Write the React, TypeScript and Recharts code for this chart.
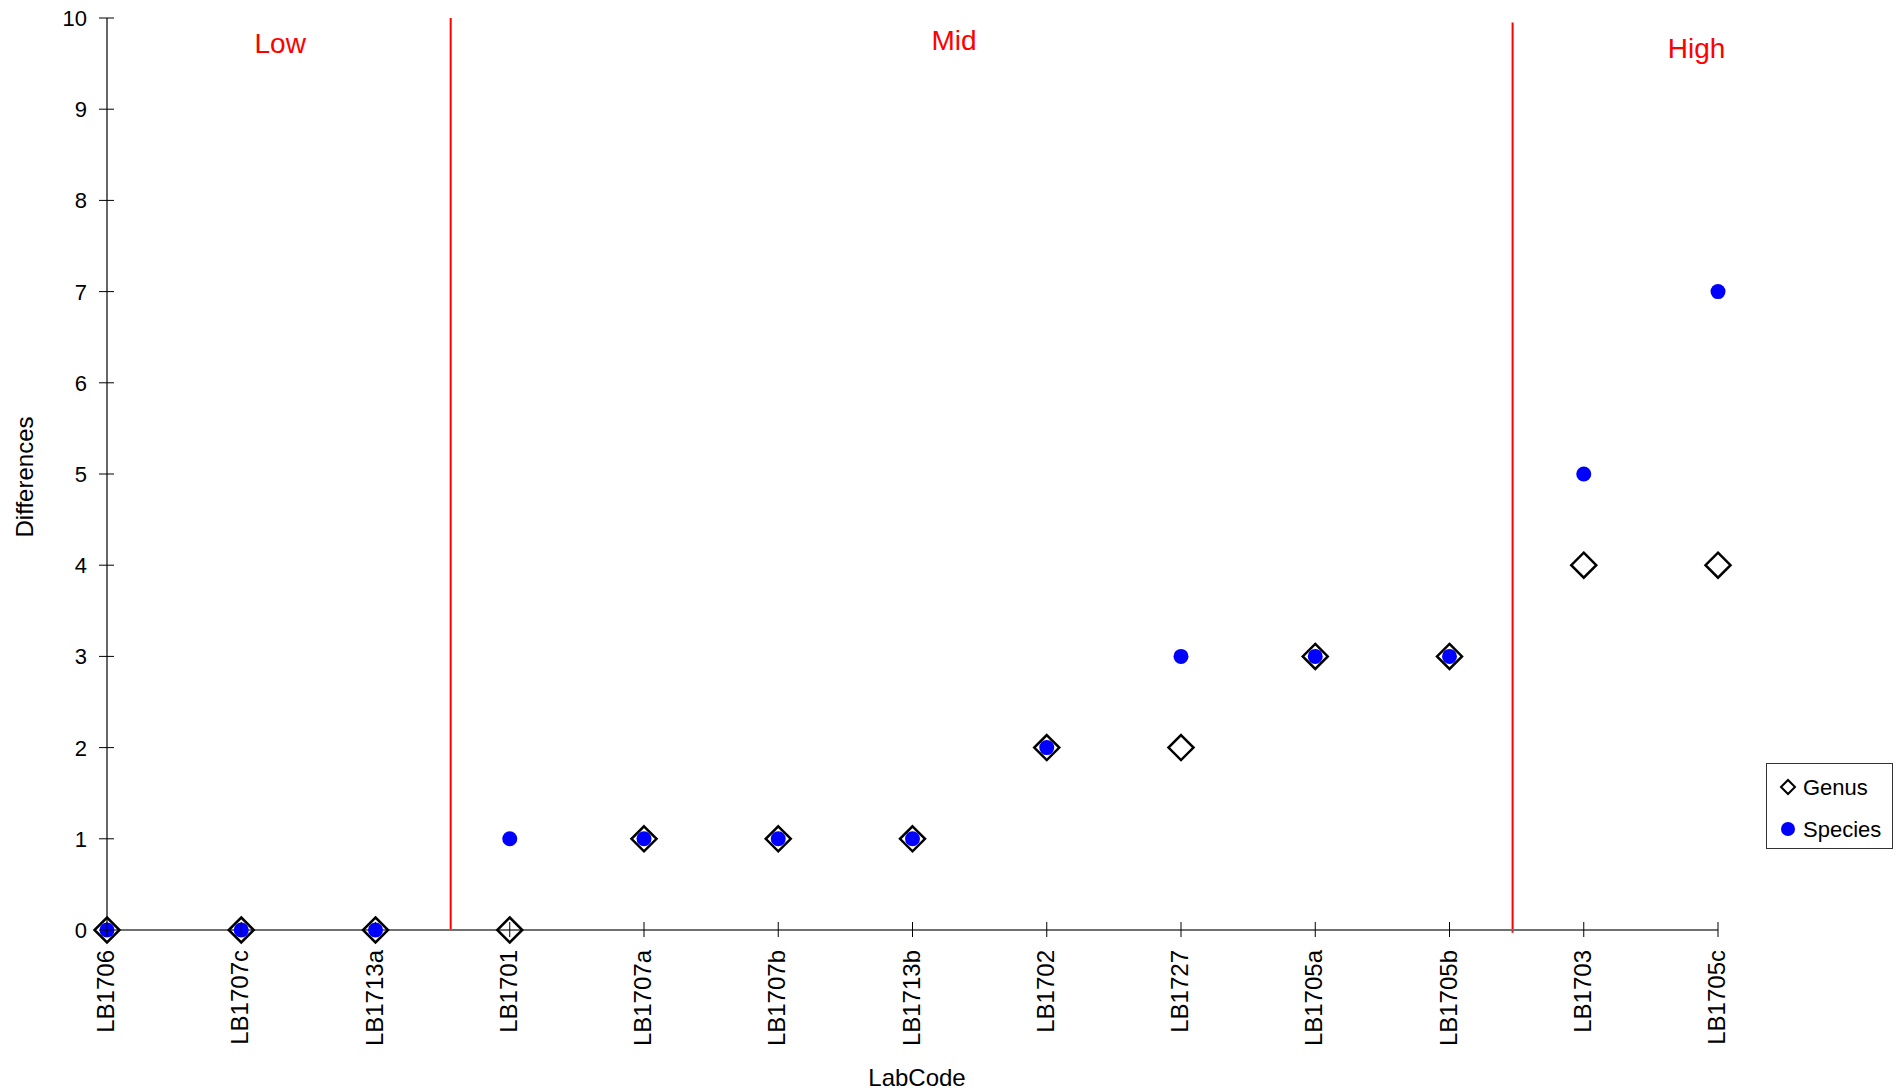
import { ScatterChart, Scatter, XAxis, YAxis, ReferenceLine, ReferenceDot, Legend, Label } from "recharts"

// Lab codes on the category axis, in plot order
const labCodes = [
  "LB1706", "LB1707c", "LB1713a", "LB1701", "LB1707a", "LB1707b", "LB1713b",
  "LB1702", "LB1727", "LB1705a", "LB1705b", "LB1703", "LB1705c",
]
const genusDiffs = [0, 0, 0, 0, 1, 1, 1, 2, 2, 3, 3, 4, 4]
const speciesDiffs = [0, 0, 0, 1, 1, 1, 1, 2, 3, 3, 3, 5, 7]
const yTicks = [0, 1, 2, 3, 4, 5, 6, 7, 8, 9, 10]

// group separators (x in category units) and group captions
const groupBreaks = [
  { x: 2.56, y1: 0, y2: 10 },
  { x: 10.47, y1: -0.03, y2: 9.95 },
]
const groupNames = ["Low", "Mid", "High"]
const groupNameX = [1.29, 6.31, 11.84]
const groupNameY = [9.73, 9.76, 9.67]

const FONT = "'Liberation Sans', Arial, sans-serif"
const W = 1902
const H = 1092
const PLOT_LEFT = 107
const PLOT_BOTTOM = 930

const genusData = labCodes.map((code, i) => ({ x: i, y: genusDiffs[i], code }))
const speciesData = labCodes.map((code, i) => ({ x: i, y: speciesDiffs[i], code }))

const Diamond = ({ cx, cy }: any) => (
  <path
    d={`M${cx},${cy - 12.5} L${cx + 12.5},${cy} L${cx},${cy + 12.5} L${cx - 12.5},${cy} Z`}
    fill="none"
    stroke="#000"
    strokeWidth={2.5}
  />
)

const Dot = ({ cx, cy }: any) => <circle cx={cx} cy={cy} r={7.5} fill="#0000FF" />

const XTick = ({ payload }: any) => {
  const x = payload.coordinate
  return (
    <g>
      <line x1={x} x2={x} y1={PLOT_BOTTOM - 8} y2={PLOT_BOTTOM + 7} stroke="#000" strokeWidth={1} />
      <text
        x={x}
        y={PLOT_BOTTOM + 20}
        dy={7}
        textAnchor="end"
        transform={`rotate(-90, ${x}, ${PLOT_BOTTOM + 20})`}
        fontFamily={FONT}
        fontSize={24}
        fill="#000"
      >
        {labCodes[payload.value]}
      </text>
    </g>
  )
}

const YTick = ({ payload }: any) => {
  const y = payload.coordinate
  return (
    <g>
      <line x1={PLOT_LEFT - 8} x2={PLOT_LEFT + 7} y1={y} y2={y} stroke="#000" strokeWidth={1} />
      <text x={PLOT_LEFT - 20} y={y} dy={8} textAnchor="end" fontFamily={FONT} fontSize={22} fill="#000">
        {payload.value}
      </text>
    </g>
  )
}

const GroupCaption = ({ cx, cy, name }: any) => (
  <text x={cx} y={cy} dy={10} textAnchor="middle" fontFamily={FONT} fontSize={28} fill="#FF0000">
    {name}
  </text>
)

const LegendBox = () => (
  <div
    style={{
      width: 127,
      height: 86,
      boxSizing: "border-box",
      border: "1.5px solid #333",
      background: "#fff",
      position: "relative",
    }}
  >
    <svg width={127} height={86} style={{ position: "absolute", left: -1.5, top: -1.5 }}>
      <path d="M22,17 L29,24 L22,31 L15,24 Z" fill="none" stroke="#000" strokeWidth={2} />
      <circle cx={22} cy={66} r={7} fill="#0000FF" />
      <text x={37} y={24} dy={8} fontFamily={FONT} fontSize={22} fill="#000">Genus</text>
      <text x={37} y={66} dy={8} fontFamily={FONT} fontSize={22} fill="#000">Species</text>
    </svg>
  </div>
)

export default function App() {
  return (
    <div style={{ position: "absolute", left: 0, top: 0, width: W, height: H, background: "#fff" }}>
      <ScatterChart width={W} height={H} margin={{ top: 18, right: 184, left: 27, bottom: 62 }}>
        <XAxis
          type="number"
          dataKey="x"
          domain={[0, labCodes.length - 1]}
          ticks={labCodes.map((_, i) => i)}
          interval={0}
          height={100}
          axisLine={{ stroke: "#707070", strokeWidth: 2 }}
          tickLine={false}
          tick={<XTick />}
        >
          <Label
            content={() => (
              <text x={917} y={1086} textAnchor="middle" fontFamily={FONT} fontSize={24} fill="#000">
                LabCode
              </text>
            )}
          />
        </XAxis>
        <YAxis
          type="number"
          dataKey="y"
          domain={[0, 10]}
          ticks={yTicks}
          interval={0}
          width={80}
          axisLine={{ stroke: "#000", strokeWidth: 1.2 }}
          tickLine={false}
          tick={<YTick />}
        >
          <Label
            content={() => (
              <text
                x={33}
                y={477}
                textAnchor="middle"
                transform="rotate(-90, 33, 477)"
                fontFamily={FONT}
                fontSize={24}
                fill="#000"
              >
                Differences
              </text>
            )}
          />
        </YAxis>
        {groupBreaks.map((b, i) => (
          <ReferenceLine
            key={i}
            segment={[{ x: b.x, y: b.y1 }, { x: b.x, y: b.y2 }]}
            stroke="#FF0000"
            strokeWidth={2}
            ifOverflow="visible"
          />
        ))}
        {groupNames.map((name, i) => (
          <ReferenceDot
            key={name}
            x={groupNameX[i]}
            y={groupNameY[i]}
            r={0}
            ifOverflow="visible"
            shape={(p: any) => <GroupCaption {...p} name={name} />}
          />
        ))}
        <Scatter name="Genus" data={genusData} shape={<Diamond />} isAnimationActive={false} />
        <Scatter name="Species" data={speciesData} shape={<Dot />} isAnimationActive={false} />
        <Legend
          layout="horizontal"
          verticalAlign="middle"
          align="center"
          wrapperStyle={{ left: 1766, top: 763, width: 127, height: 86 }}
          content={() => <LegendBox />}
        />
      </ScatterChart>
    </div>
  )
}
